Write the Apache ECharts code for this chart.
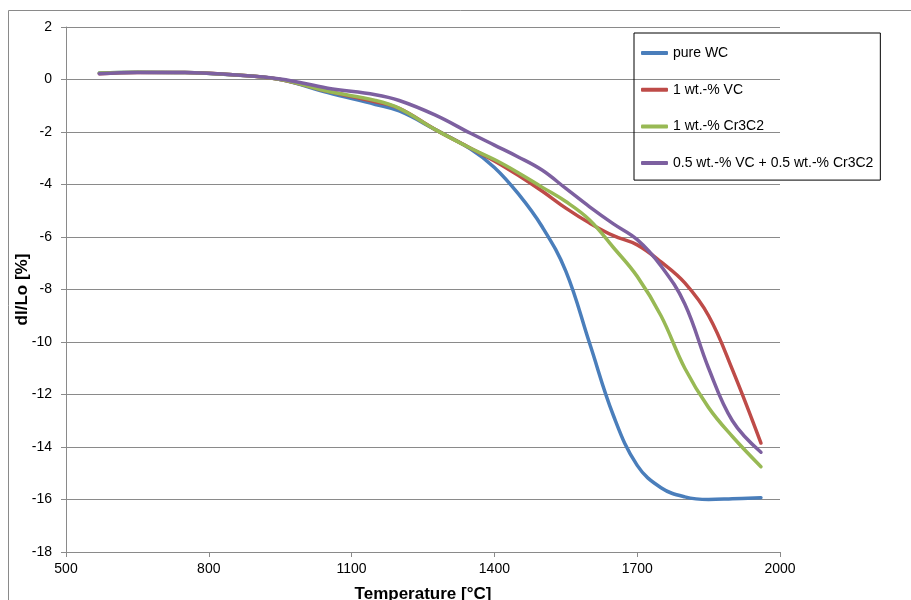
<!DOCTYPE html>
<html>
<head>
<meta charset="utf-8">
<script src="https://cdn.jsdelivr.net/npm/echarts@6/dist/echarts.min.js"></script>
<style>
  html, body { margin: 0; padding: 0; background: #fff; }
  #chart { width: 911px; height: 600px; }
</style>
</head>
<body>
<div id="chart"></div>
<script>
// temperature points [°C]
const temps = [570, 650, 750, 850, 950, 1050, 1150, 1200, 1275, 1350, 1400, 1450, 1500, 1550, 1600, 1650, 1700, 1750, 1800, 1850, 1900, 1960]

// dl/Lo [%] per composition
const pureWC = [0.25, 0.28, 0.27, 0.18, 0.0, -0.5, -0.95, -1.2, -1.9, -2.65, -3.35, -4.35, -5.6, -7.3, -10.05, -12.8, -14.7, -15.55, -15.9, -16.0, -15.97, -15.93]
const vc1 = [0.22, 0.27, 0.27, 0.18, 0.0, -0.45, -0.85, -1.1, -1.9, -2.62, -3.1, -3.65, -4.25, -4.9, -5.47, -5.95, -6.3, -6.95, -7.75, -9.0, -11.05, -13.85]
const cr3c2 = [0.25, 0.28, 0.27, 0.18, 0.0, -0.45, -0.8, -1.1, -1.9, -2.62, -3.05, -3.55, -4.1, -4.65, -5.35, -6.4, -7.5, -9.0, -11.0, -12.5, -13.6, -14.75]
const mixed = [0.22, 0.27, 0.27, 0.18, 0.02, -0.33, -0.58, -0.8, -1.35, -2.05, -2.5, -2.95, -3.45, -4.15, -4.85, -5.5, -6.1, -7.1, -8.55, -11.0, -13.0, -14.2]

const seriesNames = ['pure WC', '1 wt.-% VC', '1 wt.-% Cr3C2', '0.5 wt.-% VC + 0.5 wt.-% Cr3C2']
const colors = ['#4a7ebb', '#be4b48', '#98b954', '#7d60a0']

const font = 'Liberation Sans, Arial, sans-serif'
const chart = echarts.init(document.getElementById('chart'))

const makeSeries = (name, vals, color) => ({
  name,
  type: 'line',
  smooth: 0.4,
  showSymbol: false,
  symbol: 'none',
  data: temps.map((t, i) => [t, vals[i]]),
  lineStyle: { color, width: 3.5, cap: 'round' },
  itemStyle: { color }
})

chart.setOption({
  animation: false,
  color: colors,
  graphic: [{
    type: 'rect',
    shape: { x: 8.5, y: 10.5, width: 1000, height: 1000 },
    style: { fill: 'none', stroke: '#8a8a8a', lineWidth: 1 }
  }],
  grid: { left: 66, right: 131, top: 27, bottom: 48, containLabel: false, outerBoundsMode: 'none' },
  legend: {
    orient: 'vertical',
    left: 634,
    top: 33,
    data: seriesNames,
    icon: 'roundRect',
    itemWidth: 27,
    itemHeight: 4,
    itemGap: 20.7,
    padding: [12, 7, 9, 7],
    borderColor: '#000',
    borderWidth: 1,
    textStyle: { fontFamily: font, fontSize: 14, color: '#000', lineHeight: 16 }
  },
  xAxis: {
    type: 'value',
    min: 500,
    max: 2000,
    interval: 300,
    name: 'Temperature [°C]',
    nameLocation: 'middle',
    nameGap: 34,
    nameTextStyle: { fontFamily: font, fontSize: 17, fontWeight: 'bold', color: '#000' },
    axisLine: { show: true, onZero: false, lineStyle: { color: '#8a8a8a' } },
    axisTick: { show: true, length: 5, lineStyle: { color: '#8a8a8a' } },
    axisLabel: { fontFamily: font, fontSize: 14, color: '#000', margin: 10, formatter: v => String(v) },
    splitLine: { show: false }
  },
  yAxis: {
    type: 'value',
    min: -18,
    max: 2,
    interval: 2,
    name: 'dl/Lo [%]',
    nameLocation: 'middle',
    nameGap: 35,
    nameMoveOverlap: false,
    nameTextStyle: { fontFamily: font, fontSize: 17, fontWeight: 'bold', color: '#000' },
    axisLine: { show: true, onZero: false, lineStyle: { color: '#8a8a8a' } },
    axisTick: { show: true, length: 5, lineStyle: { color: '#8a8a8a' } },
    axisLabel: { fontFamily: font, fontSize: 14, color: '#000', margin: 14 },
    splitLine: { show: true, lineStyle: { color: '#8a8a8a', width: 1 } }
  },
  series: [
    makeSeries(seriesNames[0], pureWC, colors[0]),
    makeSeries(seriesNames[1], vc1, colors[1]),
    makeSeries(seriesNames[2], cr3c2, colors[2]),
    makeSeries(seriesNames[3], mixed, colors[3])
  ]
})
</script>
</body>
</html>
